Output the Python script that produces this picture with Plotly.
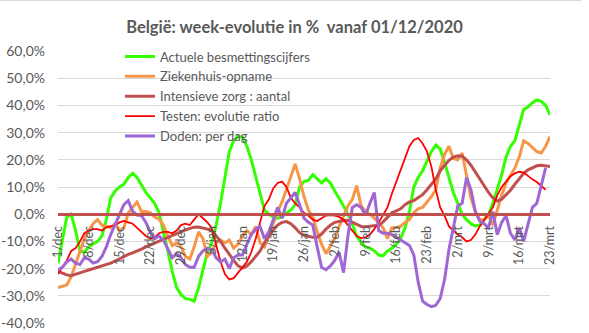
import plotly.graph_objects as go
import pandas as pd

MONTHS_NL = {12: "dec", 1: "jan", 2: "feb", 3: "mrt"}
dates = pd.date_range("2020-12-01", "2021-03-23", freq="D")
categories = [f"{d.day}/{MONTHS_NL[d.month]}" for d in dates]
tick_labels = categories[::7]

title_text = "België: week-evolutie in %\u00a0\u00a0vanaf 01/12/2020"
series_names = ["Actuele besmettingscijfers", "Ziekenhuis-opname", "Intensieve zorg : aantal",
                "Testen: evolutie ratio", "Doden: per dag"]

besmettingen = [-18, -9, -1, 0, -6, -13.5, -14, -12, -11, -10, -8, -2, 6, 8.5, 10, 11, 13.5, 15, 13.5, 10.5,
                8, 6, 4, 0.5, -6, -13.5, -21, -27, -29.5, -31, -31.3, -32, -27, -20, -14, -10.5, -4, 4, 14, 23,
                27, 28.7, 28.3, 25, 20, 14, 7, 1.5, 0, -1, -1.5, -1, 0.5, 1.5, 3.5, 10, 12, 12.5, 14.5, 13,
                11.5, 13, 11.5, 8.5, 6, 3, 0, -3.5, -8, -10.5, -12, -12.5, -13.5, -15, -15.3, -13.5, -12.5, -11, -9, -5,
                1, 10, 13.5, 16, 19.5, 23, 25.4, 24, 19, 13.5, 8, 4, 0, -2, -3.5, -4.3, -4, -2, 0, 4,
                9, 14.5, 21, 25, 27, 33, 38.5, 39.5, 41, 42, 41.5, 40, 36.5]

ziekenhuis = [-27, -26.5, -26, -23, -18.5, -13.5, -9, -6, -3.5, -2, -4, -4.5, -5, -3.5, -6, -5, 0.5, 2.5, 4.5, 1,
              1, 0.5, -1, -1.8, -4, -8, -11.5, -10.5, -12, -15.5, -16.5, -12, -6.5, -9, -15.5, -14, -10.5, -9.5, -10.5, -9.5,
              -12.5, -11, -8, -6, -7.5, -4.5, -10.5, -12, -7.5, -3.5, 1, 4.5, 9, 14, 18.5, 13, 6.5, 1.5, -1, -6.5,
              -11, -14.5, -12, -9, -4.5, -1, 3, 5.5, 10.5, 3, 1, 0, -1.5, -3, -5, -9, -5, -5, -4.5, -3,
              -2, 0.5, 2, 2.5, 4.5, 6.5, 9, 17, 22, 25, 20.5, 20, 22.5, 14, 6, 1, -2, -2, -0.5, -4,
              2, 7, 11.5, 14, 17, 21, 27, 26, 24.5, 23, 22.5, 25, 28.5]

intensieve_zorg = [-21, -21.8, -22.3, -22.6, -22, -21.5, -21, -20.5, -20, -19.6, -19, -18.5, -18, -17.2, -16.3, -15.5, -14.8, -14.2, -13.6, -12.8,
                   -12, -11.3, -10.5, -9.8, -9, -8.3, -7.8, -7, -6.4, -5.8, -5.2, -4.8, -4.7, -5, -5.5, -6, -8, -10, -12.5, -15,
                   -17, -19, -19.8, -19, -17.5, -15.5, -13.5, -10.5, -8, -5.8, -4, -3, -2.7, -3.5, -5, -6.8, -7.8, -8.2, -8.5, -8.5,
                   -7.3, -5.5, -4, -3, -2.6, -2.3, -2.2, -3, -4, -4.5, -4.6, -4.5, -4.4, -4.1, -2.8, -1, 0.5, 1.2, 2, 3.5,
                   4.5, 5, 6, 7.2, 9, 11, 13, 16, 18, 19.8, 21, 21.5, 21.3, 20, 18, 15.5, 12.8, 10.5, 8, 6,
                   4.8, 5.5, 7, 8.8, 11, 13, 15, 16.3, 17.2, 17.8, 18, 17.8, 17.5]

testen = [-22, -19.5, -17, -13.5, -12.5, -10, -7, -6, -5.5, -5.5, -6, -4.8, -4.5, -4, -3, -2.5, -3, -3.5, -5, -6.5,
          -8, -9, -8.5, -7, -6.5, -6.5, -7, -6, -4, -3.5, -4, -2, 0, -1.5, -3, -5, -11, -17.5, -22, -24,
          -23.5, -21.5, -19.5, -17.5, -14, -9, -3, 3, 5.5, 9.5, 11.5, 12, 10, 6, 4, 2.5, 0.5, -0.5, -2, -2.5,
          -1.5, -0.5, -0.3, -0.5, -1, -2, -4, -6, -8, -8.8, -8.5, -7.5, -5.5, -3, -0.5, 2.5, 7.5, 12, 16.5, 21,
          25, 27.3, 28, 26, 23, 17.5, 9, 2.5, -0.5, -4.5, -6, -7.5, -8.5, -10, -9.5, -7.5, -4.5, -2, 0, 2.5,
          7, 10, 12, 14, 15, 15.6, 15.3, 14, 12.8, 11.8, 10.5, 9, None]

doden = [-20.5, -19.5, -17.5, -16.5, -18, -18.5, -16, -16.5, -18, -17.5, -15.5, -12, -7.5, -4, -0.5, 3.5, 5, 1, -0.3, -0.5,
         -3, -6.5, -9, -8, -9.5, -12.5, -16, -14.5, -16, -18.5, -19.5, -19.5, -15.5, -13.5, -12.5, -13, -16, -17.5, -16.5, -20,
         -16, -15, -15, -11, -7.5, -5.5, -4.5, -9, -6.5, -2, 2.5, -1.5, 4, 6, 8, 3.5, -1.5, -3, -4, -12,
         -19.5, -20.4, -19, -17, -14, -21.5, -8, 2.5, 3.5, 2.5, -0.5, 4, 8, -6, -7, -7, -7.5, -8.5, -9.5, -10.5,
         -11.5, -15, -25, -32, -33.2, -34, -33.5, -31, -24, -13, -4.5, 3, 4, 13.5, 9, 1, -2.5, -3.5, -5, 1,
         -7.5, -3, -0.5, -7, -9.5, -5, -10, -4, 2.5, 4, 11, 17, None]

colors = ["#33FF00", "#F79646", "#C0504D", "#FF0000", "#A066D3"]
widths = [3, 3, 3, 1.8, 3]
all_series = [besmettingen, ziekenhuis, intensieve_zorg, testen, doden]

y_ticks = list(range(-40, 61, 10))
y_tick_text = [f"{v},0%" for v in y_ticks]

FONT = "Lato, 'Open Sans', sans-serif"
GREY = "#595959"

fig = go.Figure()
for name, vals, col, w in zip(series_names, all_series, colors, widths):
    fig.add_trace(go.Scatter(x=categories, y=vals, mode="lines", name=name,
                             line=dict(color=col, width=w), connectgaps=False))

# faint chart-area border (top edge)
fig.add_shape(type="line", xref="paper", yref="paper",
              x0=-58 / 492, x1=(581 - 58) / 492, y0=(323 - 0.5) / 272, y1=(323 - 0.5) / 272,
              line=dict(color="#D9D9D9", width=1))

fig.update_layout(
    width=589, height=333,
    margin=dict(l=58, r=39, t=51, b=10, autoexpand=False),
    paper_bgcolor="white", plot_bgcolor="white",
    font=dict(family=FONT, color=GREY, size=13),
    title=dict(text=f"<b>{title_text}</b>", x=0.5, xanchor="center", y=1 - 27 / 333, yanchor="middle",
               yref="container", font=dict(family=FONT, size=16.5, color=GREY)),
    showlegend=True,
    legend=dict(x=0.126, y=1.035, xanchor="left", yanchor="top", bgcolor="rgba(0,0,0,0)",
                font=dict(family=FONT, size=13, color=GREY), tracegroupgap=0, itemwidth=30),
    xaxis=dict(type="category", range=[0, 112], tickmode="array", tickvals=tick_labels, ticktext=tick_labels,
               tickangle=-90, showgrid=False, zeroline=False, showline=True, linecolor="#C0504D", linewidth=2.5,
               anchor="free", position=0.4, ticks="", tickfont=dict(family=FONT, size=12.5, color=GREY),
               ticklabelstandoff=5),
    yaxis=dict(range=[-40, 60], tickmode="array", tickvals=y_ticks, ticktext=y_tick_text,
               showgrid=True, gridcolor="#D9D9D9", gridwidth=1, zeroline=False, showline=False,
               tickfont=dict(family=FONT, size=14, color=GREY), ticklabelstandoff=12),
)

fig.write_html("out.html")
